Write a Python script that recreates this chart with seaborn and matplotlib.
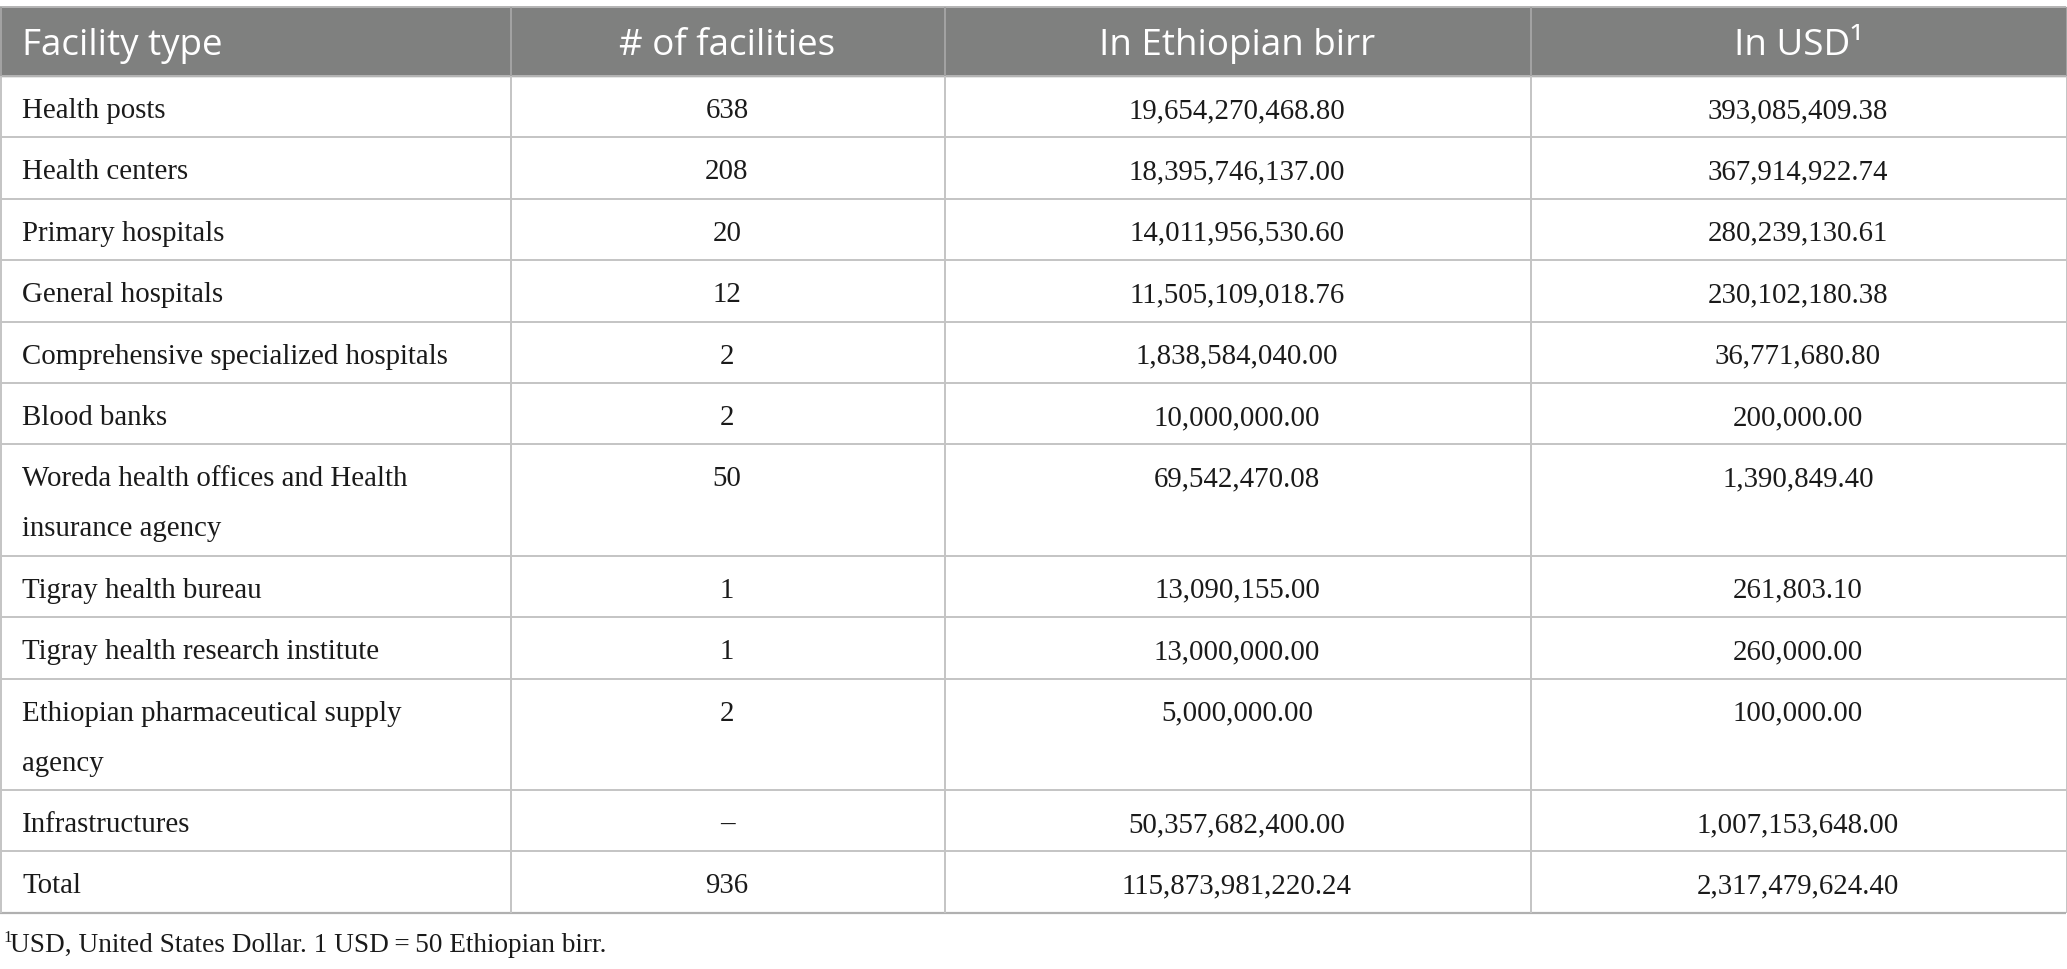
import numpy as np
import pandas as pd
import matplotlib.pyplot as plt
import seaborn as sns

# Table content

headers = ["Facility type", "# of facilities", "In Ethiopian birr", "In USD¹"]

facility_types = [
    "Health posts",
    "Health centers",
    "Primary hospitals",
    "General hospitals",
    "Comprehensive specialized hospitals",
    "Blood banks",
    "Woreda health offices and Health\ninsurance agency",
    "Tigray health bureau",
    "Tigray health research institute",
    "Ethiopian pharmaceutical supply\nagency",
    "Infrastructures",
    "Total",
]

n_facilities = [638, 208, 20, 12, 2, 2, 50, 1, 1, 2, None, 936]

cost_birr = [
    19654270468.80, 18395746137.00, 14011956530.60, 11505109018.76,
    1838584040.00, 10000000.00, 69542470.08, 13090155.00,
    13000000.00, 5000000.00, 50357682400.00, 115873981220.24,
]

cost_usd = [
    393085409.38, 367914922.74, 280239130.61, 230102180.38,
    36771680.80, 200000.00, 1390849.40, 261803.10,
    260000.00, 100000.00, 1007153648.00, 2317479624.40,
]

footnote = "USD, United States Dollar. 1 USD\u2009=\u200950 Ethiopian birr."

df = pd.DataFrame({
    "type": facility_types,
    "n": ["–" if v is None else str(v) for v in n_facilities],
    "birr": [f"{v:,.2f}" for v in cost_birr],
    "usd": [f"{v:,.2f}" for v in cost_usd],
})

# Layout (pixels)

W, H = 2067, 970
col_edges = [0, 510, 944, 1530, 2066]
header_top, header_bottom = 8, 77
line_h = 50
single_h = 61.4

sns.set_theme(style="white")

fig = plt.figure(figsize=(W / 100, H / 100), dpi=100)
ax = fig.add_axes([0, 0, 1, 1])
ax.set_xlim(0, W)
ax.set_ylim(H, 0)
ax.axis("off")

grid_color = "#c4c4c4"
header_color = "#7f807f"
text_color = "#1a1a1a"
serif = ["Liberation Serif", "DejaVu Serif"]

# row boundaries from number of text lines
n_lines = df["type"].str.count("\n") + 1
heights = np.where(n_lines > 1, single_h + line_h * (n_lines - 1), single_h)
row_tops = header_bottom + np.concatenate([[0], np.cumsum(heights)[:-1]])
table_bottom = header_bottom + heights.sum()

# header
ax.axhspan(header_top, header_bottom, xmin=0, xmax=col_edges[-1] / W,
           color=header_color, zorder=0)
centers = [(col_edges[i] + col_edges[i + 1]) / 2 for i in range(4)]
for i, h in enumerate(headers):
    x = 22 if i == 0 else centers[i]
    ax.text(x, 55, h,
            ha="left" if i == 0 else "center", va="baseline",
            fontsize=26.5, color="white", family=["Open Sans", "DejaVu Sans"])

# grid lines
ax.hlines(header_top, 0, col_edges[-1], color="#b5b5b5", lw=1.4)
for y in list(row_tops[1:]):
    ax.hlines(y, 0, col_edges[-1], color=grid_color, lw=1.4)
ax.hlines(header_bottom, 0, col_edges[-1], color="#b5b5b5", lw=1.4)
ax.hlines(table_bottom, 0, col_edges[-1], color="#b0b0b0", lw=1.6)
for x in col_edges:
    ax.vlines(x + 0.7, header_top, header_bottom, color="#a3a3a3", lw=1.4)
    ax.vlines(x + 0.7, header_bottom, table_bottom, color=grid_color, lw=1.4)

# body text
cols = ["type", "n", "birr", "usd"]
for r, top in enumerate(row_tops):
    for c, key in enumerate(cols):
        lines = df.loc[r, key].split("\n")
        for k, s in enumerate(lines):
            x = 22 if c == 0 else centers[c]
            ax.text(x, top + 41 + k * line_h, s,
                    ha="left" if c == 0 else "center", va="baseline",
                    fontsize=20.8, color=text_color, family=serif)

# footnote with small superscript marker
ax.text(3, 942, "1", ha="left", va="baseline", fontsize=12,
        color=text_color, family=serif)
ax.text(10, 952, footnote, ha="left", va="baseline", fontsize=19.6,
        color=text_color, family=serif)

fig.savefig("out.png", dpi=100)
